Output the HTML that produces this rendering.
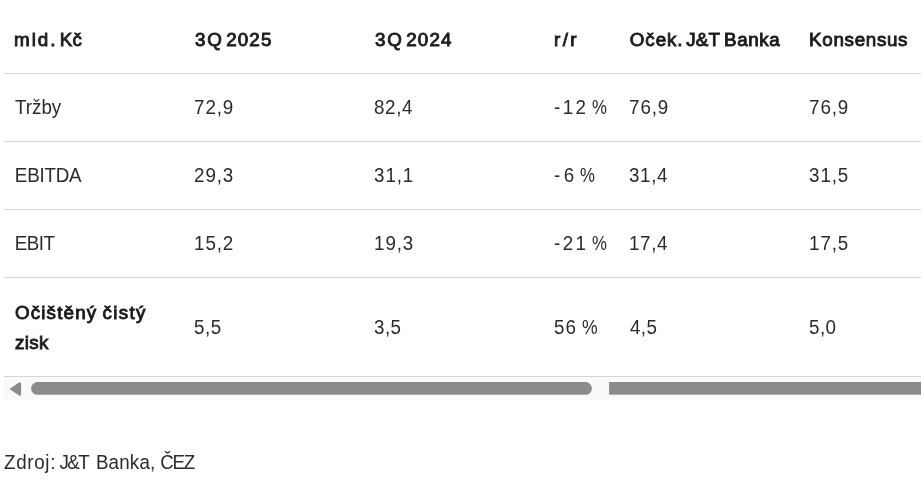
<!DOCTYPE html>
<html lang="cs">
<head>
<meta charset="utf-8">
<title>ČEZ 3Q 2025</title>
<style>
html,body{margin:0;padding:0;background:#fff;}
body{width:921px;height:484px;overflow:hidden;position:relative;font-family:"Liberation Sans",sans-serif;font-size:18.8px;color:#2b2b2b;}
.wrap{position:absolute;left:4px;top:0;width:917px;height:400px;overflow:hidden;}
table{border-collapse:separate;border-spacing:0;table-layout:fixed;width:1080px;margin:0;}
th,td{padding:0 0 0 11px;text-align:left;vertical-align:top;line-height:30.6px;font-weight:400;white-space:nowrap;border-bottom:1px solid #d4d5d7;box-sizing:border-box;}
th span,td span,.src span{position:relative;display:inline-block;white-space:nowrap;transform:scaleY(1.045);transform-origin:0 21.81px;}
th span,td.b span{transform:scaleY(0.98);}
th{font-weight:400;-webkit-text-stroke:0.9px #1c1c1c;color:#1c1c1c;}
tr.h th{height:74px;padding-top:25px;}
tr.r td{height:68px;padding-top:19px;}
tr.l td{height:99px;padding-top:35px;}
tr.l td.b{font-weight:400;-webkit-text-stroke:0.9px #1c1c1c;color:#1c1c1c;padding-top:19.6px;}
.sb{position:absolute;left:4px;top:377px;width:917px;height:23px;background:#fafafa;}
.sb svg{position:absolute;left:0;top:0;}
.src{position:absolute;left:4px;top:448px;line-height:30.6px;margin:0;white-space:nowrap;}
</style>
</head>
<body>
<div class="wrap">
<table>
<colgroup><col style="width:180px"><col style="width:180px"><col style="width:180px"><col style="width:75px"><col style="width:180px"><col style="width:285px"></colgroup>
<tr class="h"><th><span style="letter-spacing:1.93px;left:-0.90px">mld.</span> <span style="letter-spacing:0.17px;left:-3.60px">Kč</span></th><th><span style="letter-spacing:1.70px;left:-0.00px">3Q</span> <span style="letter-spacing:1.13px;left:-2.52px">2025</span></th><th><span style="letter-spacing:1.70px;left:0.00px">3Q</span> <span style="letter-spacing:1.19px;left:-2.52px">2024</span></th><th><span style="letter-spacing:2.38px;left:-0.90px">r/r</span></th><th><span style="letter-spacing:0.91px;left:-0.18px">Oček.</span> <span style="letter-spacing:0.17px;left:-2.70px">J&amp;T</span> <span style="letter-spacing:0.64px;left:-3.96px">Banka</span></th><th><span style="letter-spacing:0.68px;left:-0.90px">Konsensus</span></th></tr>
<tr class="r"><td><span style="letter-spacing:0.00px;left:-0.00px">Tržby</span></td><td><span style="letter-spacing:0.85px;left:-0.90px">72,9</span></td><td><span style="letter-spacing:0.57px;left:-0.90px">82,4</span></td><td><span style="letter-spacing:2.30px;left:-0.90px">-12</span> <span style="letter-spacing:0.00px;left:-1.98px;transform:scale(0.893,1.045)">%</span></td><td><span style="letter-spacing:0.85px;left:-0.90px">76,9</span></td><td><span style="letter-spacing:0.85px;left:-0.90px">76,9</span></td></tr>
<tr class="r"><td><span style="letter-spacing:-0.22px;left:-0.18px">EBITDA</span></td><td><span style="letter-spacing:0.85px;left:-0.90px">29,3</span></td><td><span style="letter-spacing:0.85px;left:-0.90px">31,1</span></td><td><span style="letter-spacing:3.40px;left:-0.90px">-6</span> <span style="letter-spacing:0.00px;left:-3.60px;transform:scale(0.893,1.045)">%</span></td><td><span style="letter-spacing:0.57px;left:-0.90px">31,4</span></td><td><span style="letter-spacing:0.85px;left:-0.90px">31,5</span></td></tr>
<tr class="r"><td><span style="letter-spacing:-0.57px;left:-0.18px">EBIT</span></td><td><span style="letter-spacing:0.85px;left:-0.90px">15,2</span></td><td><span style="letter-spacing:0.85px;left:-0.90px">19,3</span></td><td><span style="letter-spacing:2.30px;left:-0.90px">-21</span> <span style="letter-spacing:0.00px;left:-1.98px;transform:scale(0.893,1.045)">%</span></td><td><span style="letter-spacing:0.57px;left:-0.90px">17,4</span></td><td><span style="letter-spacing:0.85px;left:-0.90px">17,5</span></td></tr>
<tr class="l"><td class="b"><span style="letter-spacing:1.17px;left:-0.09px">Očištěný</span> <span style="letter-spacing:1.34px;left:-0.18px">čistý</span><br><span style="letter-spacing:0.37px;left:-0.09px">zisk</span></td><td><span style="letter-spacing:0.43px;left:-0.90px">5,5</span></td><td><span style="letter-spacing:0.42px;left:-0.90px">3,5</span></td><td><span style="letter-spacing:0.85px;left:-0.90px">56</span> <span style="letter-spacing:0.00px;left:-0.90px;transform:scale(0.935,1.045)">%</span></td><td><span style="letter-spacing:0.42px;left:-0.09px">4,5</span></td><td><span style="letter-spacing:0.42px;left:-0.90px">5,0</span></td></tr>
</table>
</div>
<div class="sb"><svg width="917" height="23" viewBox="0 0 917 23"><path d="M7.5 12 L15.8 6.5 L15.8 17.5 Z" fill="#8b8b8b" stroke="#8b8b8b" stroke-width="2.6" stroke-linejoin="round"/><rect x="27.1" y="5.1" width="560.8" height="12.7" rx="6.35" fill="#8b8b8b"/><rect x="605.1" y="5" width="312" height="12.7" fill="#8b8b8b"/></svg></div>
<p class="src"><span style="letter-spacing:0.68px;left:-0.00px">Zdroj:</span> <span style="letter-spacing:-1.70px;left:-1.71px">J&amp;T</span> <span style="letter-spacing:0.17px;left:1.08px">Banka,</span> <span style="letter-spacing:-1.27px;left:0.63px">ČEZ</span></p>
</body>
</html>
